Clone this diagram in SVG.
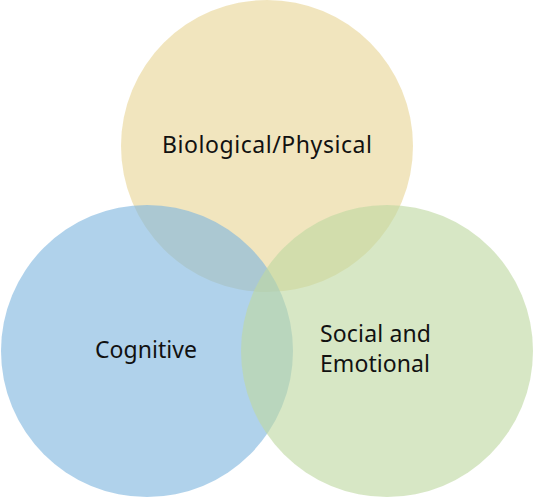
<svg xmlns="http://www.w3.org/2000/svg" width="534" height="498" viewBox="0 0 534 498">
<style>
.c{opacity:0.62}
.t{font-family:"Noto Sans","Open Sans",sans-serif;font-size:23px;fill:#111;text-anchor:middle}
</style>
<rect width="534" height="498" fill="#fff"/>
<g id="biological">
<circle class="c" cx="267" cy="146" r="146" fill="#e8d596"/>
</g>
<g id="cognitive">
<circle class="c" cx="147" cy="351" r="146" fill="#80b6de"/>
</g>
<g id="social">
<circle class="c" cx="387" cy="351" r="146" fill="#bfd8a2"/>
</g>
<g id="labels">
<text class="t" x="267" y="153" textLength="210">Biological/Physical</text>
<text class="t" x="146" y="358" textLength="102">Cognitive</text>
<text class="t" x="375.5" y="342" textLength="111">Social and</text>
<text class="t" x="375" y="372" textLength="110">Emotional</text>
</g>
<g id="connectors"></g>
</svg>
